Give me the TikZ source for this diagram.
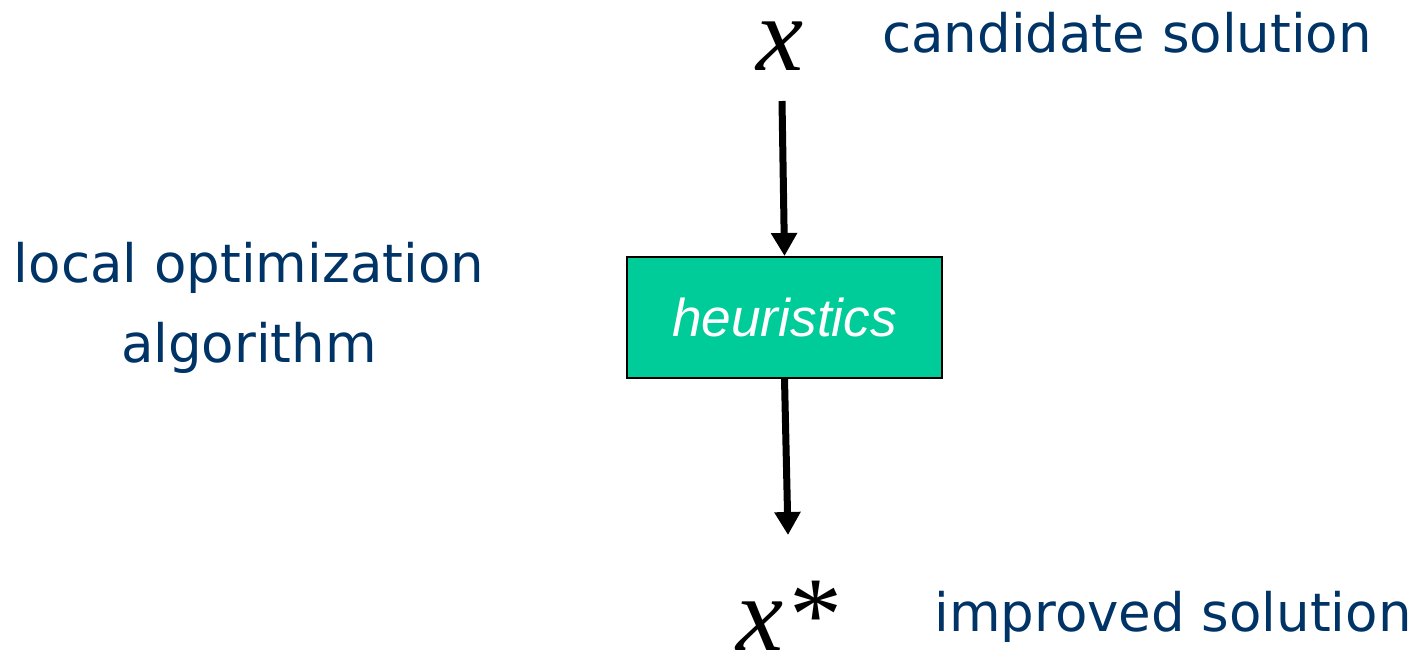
\documentclass[tikz,border=0pt]{standalone}
\usepackage{fontspec}
\setmainfont{DejaVu Sans}
\newfontfamily\arialfont{Liberation Sans}
\newfontfamily\timesfont{Liberation Serif}
\usetikzlibrary{arrows.meta}
\definecolor{labelblue}{HTML}{003366}
\definecolor{boxgreen}{HTML}{00CC99}
\tikzset{
  lbl/.style={text=labelblue, font=\fontsize{26.5pt}{40pt}\selectfont, inner sep=0pt, align=center},
  var/.style={text=black, font=\timesfont\itshape\fontsize{53pt}{60pt}\selectfont, inner sep=0pt, anchor=base,
    text height=0.68em, text depth=0pt},
  heurbox/.style={draw=black, line width=1pt, fill=boxgreen, minimum width=157.5pt, minimum height=60.5pt, inner sep=0pt,
    text=white, font=\arialfont\itshape\fontsize{26.6pt}{30pt}\selectfont},
  flow/.style={line width=3.5pt, -{Triangle[width=12.5pt,length=11.5pt]}}
}
\begin{document}
\begin{tikzpicture}[x=0.5pt,y=-0.5pt]
\useasboundingbox (0,0) rectangle (1416,654);
\node[var] (x) at (780,70) {x};
\node[var] (xs) at (787,650) {x*};
\node[lbl] (cand) at (1127,33) {candidate solution};
\node[lbl] (impr) at (1173,617) {improved solution};
\node[lbl] (loc) at (249,308) {local optimization\\algorithm};
\node[heurbox] (box) at (784.5,317.5) {heuristics};
\coordinate (a1) at (782,101);
\coordinate (a2) at (788,535);
\draw[flow] (a1) -- (box.north);
\draw[flow] (box.south) -- (a2);
\end{tikzpicture}
\end{document}
